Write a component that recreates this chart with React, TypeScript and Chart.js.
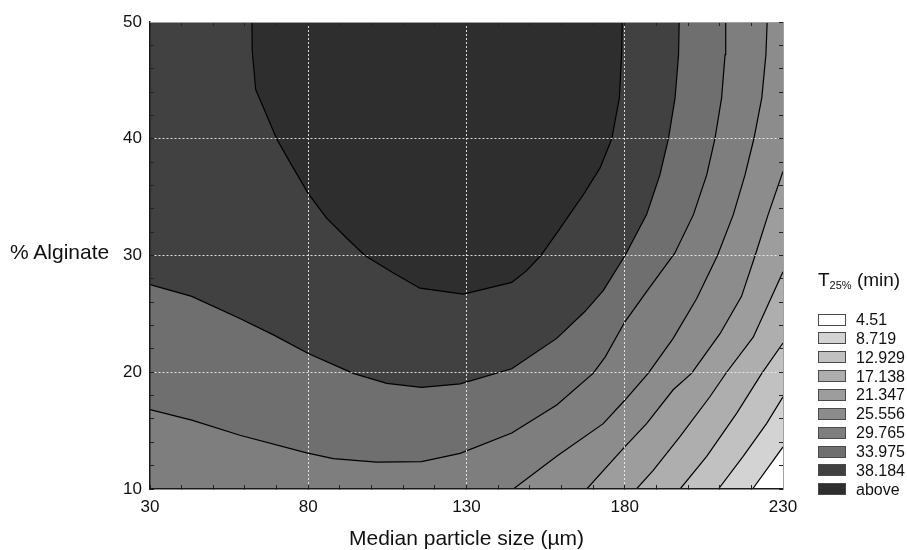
import React, { useEffect, useRef } from 'react';
import { Chart, registerables } from 'chart.js';

Chart.register(...registerables);

const FONT = '"Liberation Sans", Arial, Helvetica, sans-serif';

// Axis tick labels and grid positions
const xLabelValues = [30, 80, 130, 180, 230];
const yLabelValues = [10, 20, 30, 40, 50];
const xGridValues = [80, 130, 180];
const yGridValues = [20, 30, 40];

// Legend classes (upper bound of each class) and their grey fills
const legendLabels = ['4.51', '8.719', '12.929', '17.138', '21.347', '25.556', '29.765', '33.975', '38.184', 'above'];
const legendColors = ['#ffffff', '#d3d3d3', '#c1c1c1', '#aeaeae', '#9d9d9d', '#8c8c8c', '#7e7e7e', '#6f6f6f', '#414141', '#2e2e2e'];

// Contour lines [median particle size, % alginate]
const contour4_51 = [[220.4, 10], [230, 13.6]];
const contour8_719 = [[209.6, 10], [217.4, 12.8], [224.8, 15.6], [230, 17.9]];
const contour12_929 = [[197.5, 10], [205.9, 12.8], [215.4, 16.5], [223.3, 19.9], [230, 22.5]];
const contour17_138 = [[183.7, 10], [189, 11.6], [197.5, 14.5], [206.9, 17.9], [212.2, 20], [220.6, 23], [230, 28.6]];
const contour21_347 = [[168, 10], [180, 13.6], [186.9, 15.6], [195.3, 18.5], [201.1, 19.9], [210.1, 23.3], [216.9, 26.5], [221.2, 30], [225.3, 33.5], [230, 37.2]];
const contour25_556 = [[144.8, 10], [158.5, 12.8], [173.2, 15.6], [180, 17.6], [187.4, 19.9], [195.3, 22.9], [202.7, 26.3], [209.3, 30], [214.3, 33.5], [218, 36.9], [220.8, 40], [223.3, 43.5], [224.6, 47.2], [225, 50]];
const contour29_765 = [[30, 16.8], [43.2, 15.9], [58.4, 14.6], [79.5, 13.1], [87.9, 12.6], [101.6, 12.3], [115.8, 12.35], [128, 13.05], [144.3, 14.8], [158.5, 17.2], [170, 19.9], [173.8, 21.3], [180, 24.3], [186.9, 26.9], [195.8, 30.2], [201.7, 33.5], [205.9, 36.9], [208.5, 40], [210.6, 43.5], [211.7, 47.2], [211.9, 50]];
const contour33_975 = [[30, 27.5], [43.2, 26.5], [58.4, 24.6], [69, 23.2], [80, 21.6], [94.2, 19.9], [104.8, 19.05], [115.8, 18.7], [128, 19.0], [144.3, 20.3], [158.5, 22.9], [167.4, 25.2], [173.2, 27], [180.1, 30], [186.9, 33.5], [191.1, 36.9], [193.8, 40], [195.9, 43.5], [197.0, 47.2], [197.2, 50]];
const contour38_184 = [[62.2, 50], [62.3, 47.5], [63.4, 44.2], [66.9, 42.0], [70, 40], [74.2, 38], [80, 35.3], [85.8, 33.2], [92.1, 31.5], [97.9, 30], [106.9, 28.5], [115.3, 27.2], [129, 26.7], [144.3, 27.7], [149, 28.7], [153.5, 30], [159.5, 32.3], [166.9, 35.2], [172.2, 37.5], [175.9, 40], [178.3, 43.5], [179.0, 47.2], [179.2, 50]];

const contourLines = [contour4_51, contour8_719, contour12_929, contour17_138, contour21_347, contour25_556, contour29_765, contour33_975, contour38_184];

const X_MIN = 30, X_MAX = 230, Y_MIN = 10, Y_MAX = 50;

function buildDatasets() {
  const ds = contourLines.map((c, k) => {
    // contours that start on the lower edge run along it from the left corner,
    // so that filling towards the top covers the whole "higher" side
    const pts = c[0][1] === Y_MIN && c[0][0] > X_MIN ? [[X_MIN, Y_MIN], ...c] : c;
    return {
      label: legendLabels[k],
      data: pts.map(([x, y]) => ({ x, y })),
      xAxisID: 'x',
      yAxisID: 'y',
      borderColor: '#000000',
      borderWidth: 1.2,
      backgroundColor: legendColors[k + 1],
      fill: 'end',
      pointRadius: 0,
      pointHoverRadius: 0,
      tension: 0,
    };
  });
  // innermost (highest) region drawn last
  return ds.reverse();
}

export default function App() {
  const ref = useRef<HTMLCanvasElement>(null);

  useEffect(() => {
    const canvas = ref.current;
    if (!canvas) return;
    const tickFont = { family: FONT, size: 17, lineHeight: 1.15 };
    const gridColor = 'rgba(238,238,238,0.9)';
    const chart = new Chart(canvas, {
      type: 'line',
      data: { datasets: buildDatasets() as any },
      options: {
        responsive: false,
        animation: false,
        events: [],
        layout: { padding: { left: 120, top: 22, right: 124, bottom: 0 } },
        plugins: {
          legend: { display: false },
          tooltip: { enabled: false },
          title: { display: false },
        },
        scales: {
          x: {
            type: 'linear',
            position: 'bottom',
            min: X_MIN,
            max: X_MAX,
            afterFit: (s: any) => { s.height = 61; },
            ticks: {
              stepSize: 10,
              autoSkip: false,
              maxRotation: 0,
              padding: 13,
              color: '#111',
              font: tickFont,
              callback: (v: any) => (xLabelValues.includes(Number(v)) ? String(v) : ''),
            },
            grid: {
              z: 1,
              color: (c: any) => (c.tick && xGridValues.includes(c.tick.value) ? gridColor : 'transparent'),
              lineWidth: 1,
              drawTicks: true,
              tickLength: -4,
              tickColor: '#222',
              tickWidth: 1,
            },
            border: { z: 1, color: '#1a1a1a', width: 1.5, dash: [2, 2] },
            title: {
              display: true,
              text: 'Median particle size (µm)',
              color: '#111',
              font: { family: FONT, size: 21, lineHeight: 1 },
              padding: 0,
            },
          },
          y: {
            type: 'linear',
            position: 'left',
            min: Y_MIN,
            max: Y_MAX,
            afterFit: (s: any) => { s.width = 30; },
            ticks: {
              stepSize: 2,
              autoSkip: false,
              padding: 12,
              color: '#111',
              font: tickFont,
              callback: (v: any) => (yLabelValues.includes(Number(v)) ? String(v) : ''),
            },
            grid: {
              z: 1,
              color: (c: any) => (c.tick && yGridValues.includes(c.tick.value) ? gridColor : 'transparent'),
              lineWidth: 1,
              drawTicks: true,
              tickLength: -4,
              tickColor: '#222',
              tickWidth: 1,
            },
            border: { z: 1, color: '#1a1a1a', width: 1.5, dash: [2, 2] },
          },
          xTop: {
            type: 'linear',
            position: 'top',
            display: true,
            min: X_MIN,
            max: X_MAX,
            afterFit: (s: any) => { s.height = 0; },
            ticks: { display: false, stepSize: 10, autoSkip: false },
            grid: { z: 1, drawOnChartArea: false, drawTicks: true, tickLength: -4, tickColor: '#222', tickWidth: 1 },
            border: { z: 1, color: '#a0a0a0', width: 1 },
          },
          yRight: {
            type: 'linear',
            position: 'right',
            display: true,
            min: Y_MIN,
            max: Y_MAX,
            afterFit: (s: any) => { s.width = 0; },
            ticks: { display: false, stepSize: 2, autoSkip: false },
            grid: { z: 1, drawOnChartArea: false, drawTicks: true, tickLength: -4, tickColor: '#222', tickWidth: 1 },
            border: { z: 1, color: '#a0a0a0', width: 1 },
          },
        } as any,
      },
    });
    return () => chart.destroy();
  }, []);

  return (
    <div style={{ position: 'absolute', left: 0, top: 0, width: 907, height: 550, fontFamily: FONT, color: '#111' }}>
      <canvas ref={ref} width={907} height={550} style={{ display: 'block' }} />
      <div style={{ position: 'absolute', left: 10, top: 240, fontSize: 21, lineHeight: '24px', whiteSpace: 'nowrap' }}>
        % Alginate
      </div>
      <div style={{ position: 'absolute', left: 818, top: 269, fontSize: 19, lineHeight: '22px', whiteSpace: 'nowrap' }}>
        T<span style={{ fontSize: 11, position: 'relative', top: 3 }}>25%</span> (min)
      </div>
      {legendLabels.map((label, i) => (
        <div
          key={label}
          style={{ position: 'absolute', left: 818, top: 310 + i * 18.86, height: 19, display: 'flex', alignItems: 'center', whiteSpace: 'nowrap' }}
        >
          <span style={{ display: 'block', width: 28, height: 12, boxSizing: 'border-box', border: '1px solid #4a4a4a', background: legendColors[i] }} />
          <span style={{ marginLeft: 10, fontSize: 16, lineHeight: '19px' }}>{label}</span>
        </div>
      ))}
    </div>
  );
}
